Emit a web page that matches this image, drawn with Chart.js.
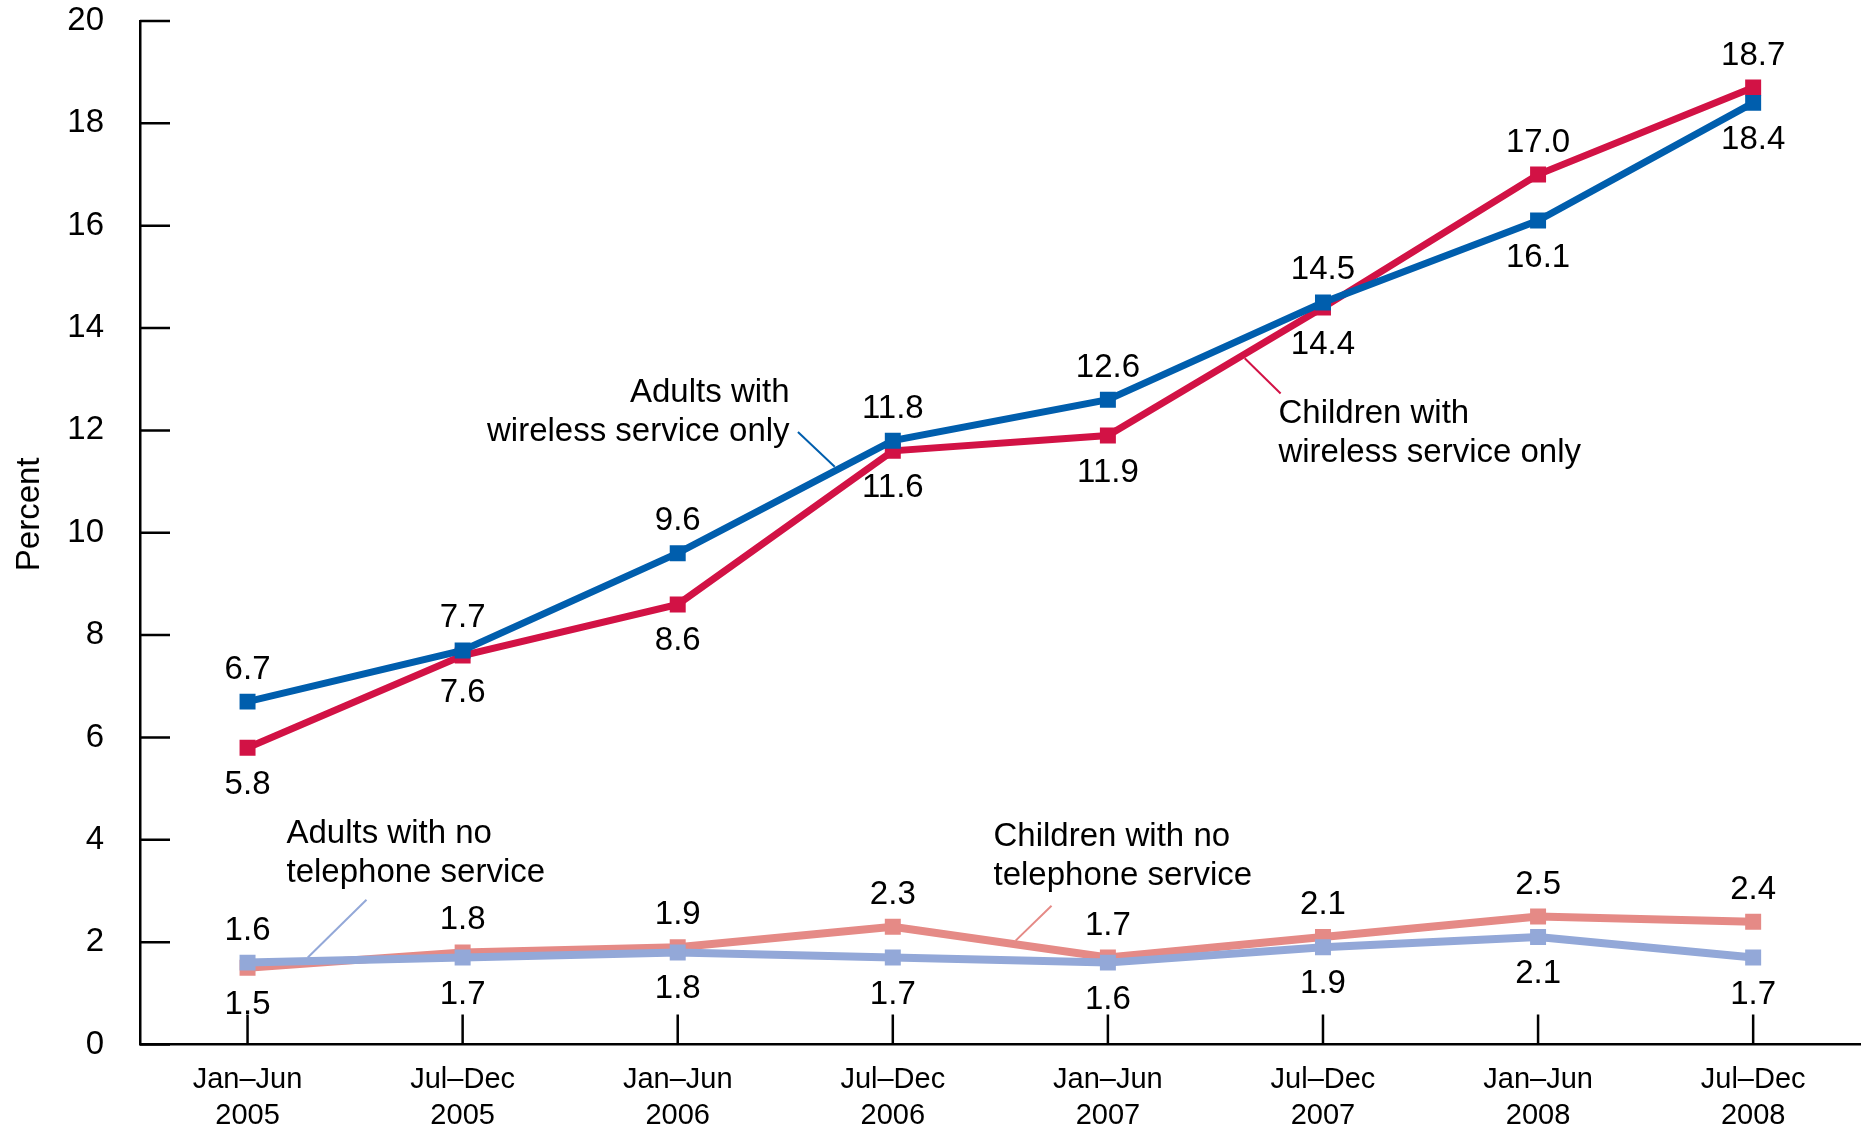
<!DOCTYPE html>
<html>
<head>
<meta charset="utf-8">
<script src="https://cdn.jsdelivr.net/npm/chart.js@4.4.1/dist/chart.umd.min.js"></script>
<style>
  html, body { margin: 0; padding: 0; background: #ffffff; }
  #chart { display: block; }
</style>
</head>
<body>
<canvas id="chart" width="1872" height="1133"></canvas>
<script>
const periodHalves = ["Jan–Jun", "Jul–Dec", "Jan–Jun", "Jul–Dec", "Jan–Jun", "Jul–Dec", "Jan–Jun", "Jul–Dec"];
const periodYears = ["2005", "2005", "2006", "2006", "2007", "2007", "2008", "2008"];

const adultsWireless = [6.7, 7.7, 9.6, 11.8, 12.6, 14.5, 16.1, 18.4];
const childrenWireless = [5.8, 7.6, 8.6, 11.6, 11.9, 14.4, 17.0, 18.7];
const adultsNoPhone = [1.6, 1.7, 1.8, 1.7, 1.6, 1.9, 2.1, 1.7];
const childrenNoPhone = [1.5, 1.8, 1.9, 2.3, 1.7, 2.1, 2.5, 2.4];

const yTicks = [0, 2, 4, 6, 8, 10, 12, 14, 16, 18, 20];

const BLUE = "#005ead";
const CRIMSON = "#d21245";
const SALMON = "#e58a86";
const LIGHT_BLUE = "#93a8d8";
const FONT = "'Liberation Sans', Arial, sans-serif";

// callout text, anchored in category index / percent units
const callouts = [
  { lines: ["Adults with", "wireless service only"], at: [2.52, 12.56], align: "right",
    leader: [[2.559, 11.97], [2.73, 11.29]], color: BLUE },
  { lines: ["Children with", "wireless service only"], at: [4.793, 12.14], align: "left",
    leader: [[4.803, 12.72], [4.636, 13.41]], color: CRIMSON },
  { lines: ["Adults with no", "telephone service"], at: [0.181, 3.94], align: "left",
    leader: [[0.553, 2.83], [0.28, 1.70]], color: LIGHT_BLUE },
  { lines: ["Children with no", "telephone service"], at: [3.468, 3.87], align: "left",
    leader: [[3.738, 2.71], [3.571, 2.03]], color: SALMON }
];

// series paired so the higher value of a pair gets its label above
const labelPairs = [[0, 1], [2, 3]];

function lineSeries(label, data, color, width) {
  return {
    label,
    data,
    borderColor: color,
    backgroundColor: color,
    borderWidth: width,
    pointStyle: "rect",
    pointRadius: 11.3,
    pointBorderWidth: 0,
    pointBackgroundColor: color,
    tension: 0
  };
}

function dropScalePadding(scale) {
  scale.paddingTop = 0;
  scale.paddingBottom = 0;
  scale.paddingLeft = 0;
  scale.paddingRight = 0;
}

const axisDecor = {
  id: "axisDecor",
  afterDraw(chart) {
    const ctx = chart.ctx;
    const x = chart.scales.x;
    const y = chart.scales.y;
    const area = chart.chartArea;

    ctx.save();
    ctx.strokeStyle = "#000000";
    ctx.lineWidth = 2.5;
    ctx.beginPath();
    yTicks.forEach((v) => {
      const py = y.getPixelForValue(v);
      ctx.moveTo(area.left, py);
      ctx.lineTo(area.left + 30, py);
    });
    periodHalves.forEach((_, i) => {
      const px = x.getPixelForValue(i);
      ctx.moveTo(px, area.bottom);
      ctx.lineTo(px, area.bottom - 30);
    });
    ctx.stroke();

    ctx.fillStyle = "#000000";
    ctx.font = `33px ${FONT}`;
    ctx.textAlign = "center";
    ctx.textBaseline = "middle";
    ctx.translate(30, area.top + (area.bottom - area.top) * 0.482);
    ctx.rotate(-Math.PI / 2);
    ctx.fillText("Percent", 0, 0);
    ctx.restore();
  }
};

const valueLabels = {
  id: "valueLabels",
  afterDatasetsDraw(chart) {
    const ctx = chart.ctx;
    const x = chart.scales.x;
    const y = chart.scales.y;
    const sets = chart.data.datasets;

    ctx.save();
    ctx.fillStyle = "#000000";
    ctx.font = `33px ${FONT}`;
    ctx.textAlign = "center";
    ctx.textBaseline = "alphabetic";
    labelPairs.forEach(([a, b]) => {
      sets[a].data.forEach((va, i) => {
        const vb = sets[b].data[i];
        const px = x.getPixelForValue(i);
        const hi = Math.max(va, vb);
        const lo = Math.min(va, vb);
        ctx.fillText(hi.toFixed(1), px, y.getPixelForValue(hi) - 23);
        ctx.fillText(lo.toFixed(1), px, y.getPixelForValue(lo) + 46);
      });
    });

    callouts.forEach((c) => {
      ctx.strokeStyle = c.color;
      ctx.lineWidth = 2;
      ctx.beginPath();
      ctx.moveTo(x.getPixelForValue(c.leader[0][0]), y.getPixelForValue(c.leader[0][1]));
      ctx.lineTo(x.getPixelForValue(c.leader[1][0]), y.getPixelForValue(c.leader[1][1]));
      ctx.stroke();

      ctx.textAlign = c.align;
      const tx = x.getPixelForValue(c.at[0]);
      const ty = y.getPixelForValue(c.at[1]);
      c.lines.forEach((line, k) => {
        ctx.fillText(line, tx, ty + k * 39);
      });
    });
    ctx.restore();
  }
};

const ctx = document.getElementById("chart").getContext("2d");

new Chart(ctx, {
  type: "line",
  data: {
    labels: periodHalves.map((h, i) => [h, periodYears[i]]),
    datasets: [
      lineSeries("Adults with wireless service only", adultsWireless, BLUE, 7),
      lineSeries("Children with wireless service only", childrenWireless, CRIMSON, 7),
      lineSeries("Adults with no telephone service", adultsNoPhone, LIGHT_BLUE, 8),
      lineSeries("Children with no telephone service", childrenNoPhone, SALMON, 8)
    ]
  },
  options: {
    responsive: false,
    animation: false,
    devicePixelRatio: 1,
    events: [],
    layout: {
      padding: { top: 21, right: 8, bottom: 0, left: 0 }
    },
    plugins: {
      legend: { display: false },
      tooltip: { enabled: false }
    },
    scales: {
      x: {
        offset: true,
        grid: { display: true, drawOnChartArea: false, drawTicks: false },
        border: { display: true, color: "#000000", width: 2.5 },
        ticks: {
          color: "#000000",
          font: { family: FONT, size: 29, lineHeight: 1.23 },
          padding: 18,
          maxRotation: 0,
          autoSkip: false
        },
        afterFit(scale) {
          scale.height = 88.5;
          dropScalePadding(scale);
        }
      },
      y: {
        min: 0,
        max: 20,
        grid: { display: true, drawOnChartArea: false, drawTicks: false },
        border: { display: true, color: "#000000", width: 2.5 },
        ticks: {
          stepSize: 2,
          color: "#000000",
          font: { family: FONT, size: 33 },
          padding: 36
        },
        afterFit(scale) {
          scale.width = 140;
          dropScalePadding(scale);
        }
      }
    }
  },
  plugins: [axisDecor, valueLabels]
});
</script>
</body>
</html>
